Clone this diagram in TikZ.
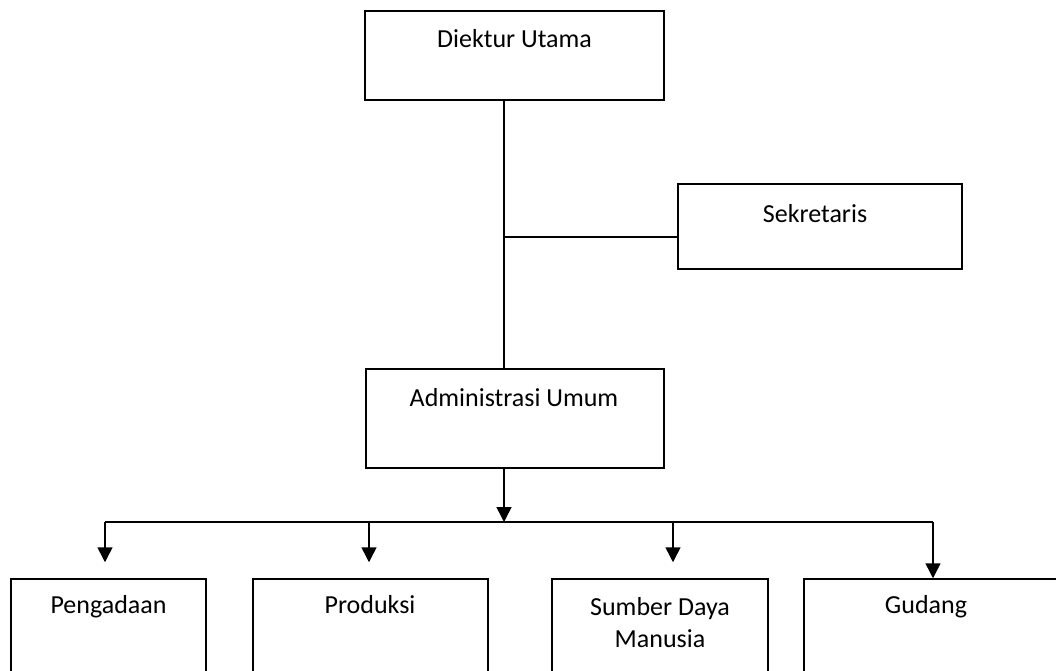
\documentclass[tikz,border=0pt]{standalone}
\usepackage{fontspec}
\setmainfont{Carlito}
\usetikzlibrary{arrows.meta}
\begin{document}
\begin{tikzpicture}[x=1pt,y=-1pt,
  box/.style={draw=black, line width=1.5pt, inner sep=0pt, fill=white},
  conn/.style={draw=black, line width=1.5pt},
  arr/.style={conn, -{Triangle[width=15pt,length=15pt]}},
  lbl/.style={anchor=base, inner sep=0pt, font=\fontsize{26}{32}\selectfont, align=center}]
\useasboundingbox (0,0) rectangle (1056,670);
\fill[white] (0,0) rectangle (1056,670);
% boxes
\node[box, minimum width=299pt, minimum height=89pt] (dir) at (514.5,55.5) {};
\node[box, minimum width=284pt, minimum height=85pt] (sek) at (820,226.5) {};
\node[box, minimum width=298pt, minimum height=99pt] (adm) at (515,418.5) {};
\node[box, minimum width=195pt, minimum height=120pt] (peng) at (108.5,639) {};
\node[box, minimum width=235pt, minimum height=120pt] (prod) at (370.5,639) {};
\node[box, minimum width=216pt, minimum height=120pt] (sdm) at (660,639) {};
\node[box, minimum width=270pt, minimum height=120pt] (gud) at (939,639) {};
% texts
\node[lbl] (tdir) at (514.5,47) {Diektur Utama};
\node[lbl] (tsek) at (815,222) {Sekretaris};
\node[lbl] (tadm) at (514,406) {Administrasi Umum};
\node[lbl] (tpeng) at (108.5,613) {Pengadaan};
\node[lbl] (tprod) at (370,613) {Produksi};
\node[lbl] (tsdm) at (660,647) {Sumber Daya\\Manusia};
\node[lbl] (tgud) at (926,613) {Gudang};
% connectors
\coordinate (tx) at (504,0);
\coordinate (j1) at (504,237);
\coordinate (bus) at (504,522);
\coordinate (bl) at (105,522);
\coordinate (br) at (933,522);
\coordinate (bp) at (369,522);
\coordinate (bs) at (673,522);
\draw[conn] (dir.south -| tx) -- (adm.north -| tx);
\draw[conn] (j1) -- (j1 -| sek.west);
\draw[arr] (adm.south -| tx) -- (bus);
\draw[conn] (bl) -- (br);
\draw[arr] (bl) -- ([yshift=16pt]peng.north -| bl);
\draw[arr] (bp) -- ([yshift=16pt]prod.north -| bp);
\draw[arr] (bs) -- ([yshift=16pt]sdm.north -| bs);
\draw[arr] (br) -- (gud.north -| br);
\end{tikzpicture}
\end{document}
